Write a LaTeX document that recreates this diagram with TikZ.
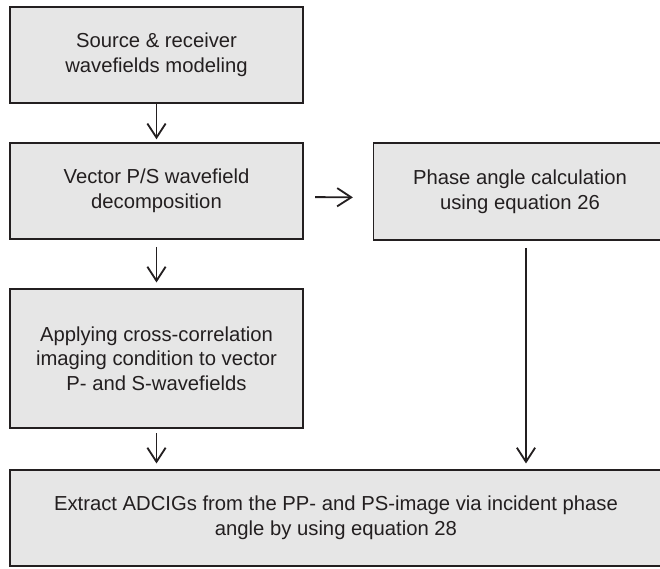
\documentclass[tikz,border=0pt]{standalone}
\usepackage{fontspec}
\setmainfont{Liberation Sans}
\usetikzlibrary{arrows.meta}
\definecolor{boxfill}{HTML}{E6E6E6}
\definecolor{ink}{HTML}{231F20}
\tikzset{
	stepbox/.style={draw=ink,fill=boxfill,line width=1.3pt,text=ink,align=center,
		minimum width=293*0.025cm,inner sep=0pt,font=\fontsize{14.4}{17.5}\selectfont},
	flow/.style={draw=ink,line width=1.3pt,-{Straight Barb[length=10pt,width=13pt,line width=1.3pt]}}
}
\begin{document}
\begin{tikzpicture}[x=0.025cm,y=-0.025cm]
	\useasboundingbox (0,0) rectangle (660,568);

	% Draw boxes
	\node[stepbox,minimum height=96*0.025cm] (model) at (156.5,55) {Source \& receiver\\wavefields modeling};
	\node[stepbox,minimum height=96*0.025cm] (decomp) at (156.5,191) {Vector P/S wavefield\\decomposition};
	\node[stepbox,minimum height=97*0.025cm] (phase) at (520,191.5) {Phase angle calculation\\using equation 26};
	\node[stepbox,minimum height=139*0.025cm] (imaging) at (156.5,358.5) {Applying cross-correlation\\imaging condition to vector\\P- and S-wavefields};
	\node[stepbox,minimum width=652*0.025cm,minimum height=96*0.025cm] (adcig) at (336,518) {Extract ADCIGs from the PP- and PS-image via incident phase\\angle by using equation 28};

	% Draw arrows
	\draw[flow,shorten >=2pt] (model) -- (decomp);
	\draw[flow,shorten <=5pt,shorten >=4pt] (decomp) -- (imaging);
	\draw[flow,shorten <=3pt,shorten >=4pt] (imaging.south) -- (imaging.south |- adcig.north);
	\draw[flow,shorten <=8pt,shorten >=14pt] ([yshift=-0.15cm]decomp.east) -- ([yshift=-0.15cm]phase.west);
	\draw[flow,shorten <=5pt,shorten >=4pt] ([xshift=0.15cm]phase.south) -- ([xshift=0.15cm]phase.south |- adcig.north);
\end{tikzpicture}
\end{document}
